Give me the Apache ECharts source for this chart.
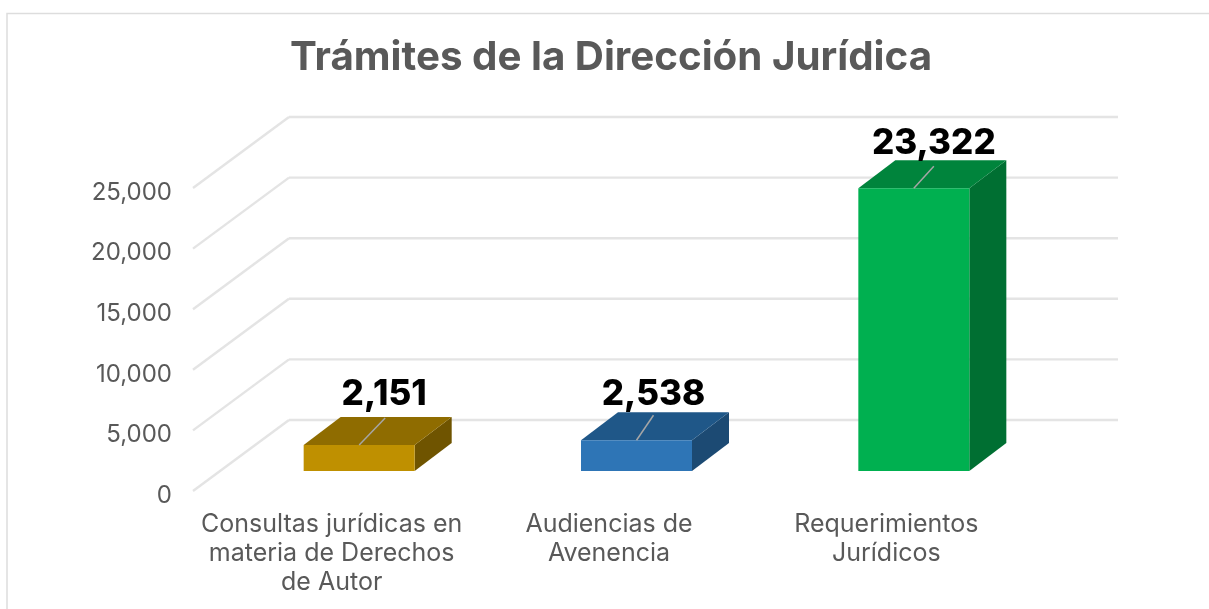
<!DOCTYPE html>
<html>
<head>
<meta charset="utf-8">
<style>
html,body{margin:0;padding:0;background:#fff;overflow:hidden}
#chart{width:1209px;height:609px}
</style>
<script src="https://cdn.jsdelivr.net/npm/echarts@6/dist/echarts.min.js"></script>
</head>
<body>
<div id="chart"></div>
<script>
var categories = ['Consultas jurídicas en\nmateria de Derechos\nde Autor', 'Audiencias de\nAvenencia', 'Requerimientos\nJurídicos'];
var tramites = [2151, 2538, 23322];
var yTicks = [0, 5000, 10000, 15000, 20000, 25000];

var colFront = ['#BF9000', '#2E75B6', '#00B050'];
var colTop = ['#8F6C00', '#1F5788', '#00843C'];
var colSide = ['#6F5400', '#1C4A73', '#006F32'];

var FONT = 'Inter';
// the fake 3d: wall sits back from the axis, bars stand a bit in front of it
var wallDx = 96, wallDy = -71, wallEnd = 1118;
var floorDy = -20, barW = 111, depthX = 37, depthY = -28, barShift = 27.5;
// label and leader line differ a little per bar
var labelShift = [[25, -50], [17, -46], [20, -45]];
var leaderEnd = [[26, -27], [17, -25], [20, -22]];

function fmt(v) {
    return String(v).replace(/\B(?=(\d{3})+$)/g, ',');
}

function renderWall(params, api) {
    var p = api.coord([0, api.value(1)]);
    var x0 = params.coordSys.x, y0 = p[1];
    var st = { stroke: '#E4E4E4', lineWidth: 2.4, fill: null };
    return {
        type: 'group',
        children: [
            { type: 'line', shape: { x1: x0, y1: y0, x2: x0 + wallDx, y2: y0 + wallDy }, style: st },
            { type: 'line', shape: { x1: x0 + wallDx, y1: y0 + wallDy, x2: wallEnd, y2: y0 + wallDy }, style: st }
        ]
    };
}

function renderBar(params, api) {
    var i = params.dataIndex;
    var v = api.value(1);
    var top = api.coord([i, v]);
    var base = api.coord([i, 0]);
    var cx = top[0] + barShift;
    var l = cx - barW / 2, r = cx + barW / 2;
    var t = top[1] + floorDy, b = base[1] + floorDy;
    return {
        type: 'group',
        children: [
            { type: 'polygon', shape: { points: [[r, t], [r + depthX, t + depthY], [r + depthX, b + depthY], [r, b]] }, style: { fill: colSide[i] } },
            { type: 'polygon', shape: { points: [[l, t], [l + depthX, t + depthY], [r + depthX, t + depthY], [r, t]] }, style: { fill: colTop[i] } },
            { type: 'rect', shape: { x: l, y: t, width: barW, height: b - t }, style: { fill: colFront[i] } },
            { type: 'line', shape: { x1: cx, y1: t, x2: cx + leaderEnd[i][0], y2: t + leaderEnd[i][1] }, style: { stroke: '#A6A6A6', lineWidth: 1.5, fill: null } },
            { type: 'text', x: cx + labelShift[i][0], y: t + labelShift[i][1], style: { text: fmt(v), fill: '#000', font: '800 35px ' + FONT, align: 'center', verticalAlign: 'middle' } }
        ]
    };
}

var myChart = echarts.init(document.getElementById('chart'));
var option = {
    animation: false,
    backgroundColor: '#fff',
    title: {
        text: 'Trámites de la Dirección Jurídica',
        left: 606,
        top: 33,
        textAlign: 'center',
        textStyle: { color: '#595959', fontFamily: FONT, fontWeight: 'bold', fontSize: 40.3 }
    },
    graphic: [{
        type: 'rect',
        shape: { x: 7, y: 13.5, width: 1400, height: 800 },
        style: { fill: null, stroke: '#DDD', lineWidth: 1.5 },
        silent: true,
        z: -10
    }],
    grid: { left: 193, right: 184, top: 188, bottom: 118 },
    xAxis: {
        type: 'category',
        data: categories,
        axisLine: { show: false },
        axisTick: { show: false },
        axisLabel: { color: '#595959', fontFamily: FONT, fontSize: 25, lineHeight: 29, margin: 19, interval: 0 }
    },
    yAxis: {
        type: 'value',
        min: 0,
        max: 25000,
        interval: 5000,
        axisLine: { show: false },
        axisTick: { show: false },
        splitLine: { show: false },
        axisLabel: { color: '#595959', fontFamily: FONT, fontSize: 24, margin: 21, verticalAlign: 'top', lineHeight: 9, formatter: fmt }
    },
    series: [
        {
            type: 'custom',
            renderItem: renderWall,
            silent: true,
            z: 1,
            data: yTicks.map(function (v) { return [0, v]; })
        },
        {
            type: 'custom',
            renderItem: renderBar,
            silent: true,
            z: 2,
            data: tramites.map(function (v, i) { return [i, v]; })
        }
    ]
};
myChart.setOption(option);
</script>
</body>
</html>
